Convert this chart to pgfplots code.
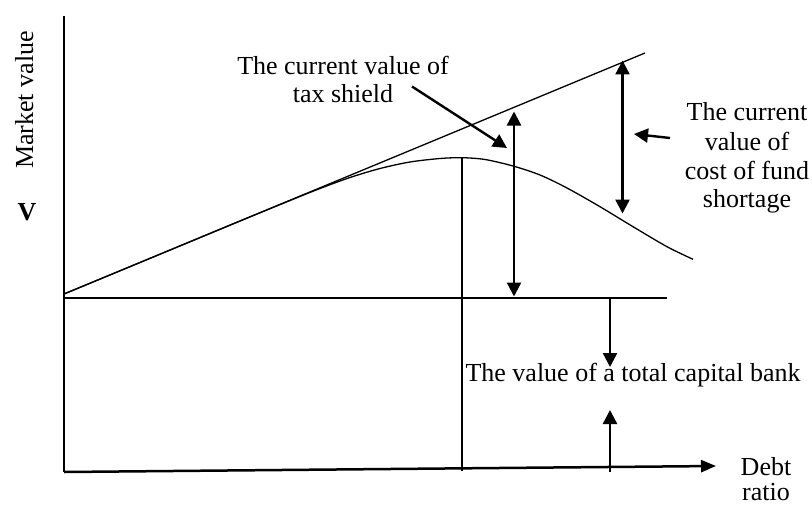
\documentclass[border=0pt]{standalone}
\usepackage{fontspec}
\setmainfont{Liberation Serif}
\usepackage{pgfplots}
\pgfplotsset{compat=1.18}
\usetikzlibrary{arrows.meta}
\begin{document}
\begin{tikzpicture}[font=\fontsize{26bp}{29bp}\selectfont]
\begin{axis}[
  scale only axis, width=812bp, height=505bp,
  xmin=0, xmax=812, ymin=0, ymax=505, y dir=reverse,
  hide axis, clip=false,
  every node/.style={inner sep=0pt, outer sep=0pt},
]
% axes
\addplot[black, line width=2bp] coordinates {(64,16) (64,472)};
\addplot[black, line width=2.5bp, -{Triangle[length=15bp,width=12bp]}] coordinates {(64,472) (716,466)};
% horizontal reference line
\addplot[black, line width=2bp] coordinates {(64,297.5) (667,297.5)};
% vertical line from the peak
\addplot[black, line width=1.5bp] coordinates {(462,158) (462,471)};
% straight line (value with tax shield)
\addplot[black, line width=1.3bp] coordinates {(64,294) (645,53)};
% curve (total value)
\addplot[black, line width=1.3bp, smooth, tension=0.5] coordinates {
(64,294) (120,270.8) (180,245.9) (240,221) (290,200.5) (320,188.5)
(350,177.5) (380,168.5) (410,162) (440,158.5) (462,157.7) (485,159.5)
(513,166) (540,175) (567,188) (600,206.7) (633,226.7) (667,246.7) (693,259.3)};
% double arrows
\addplot[black, line width=2.4bp, {Triangle[length=14bp,width=14bp]}-{Triangle[length=14bp,width=14bp]}] coordinates {(514,111.5) (514,296.5)};
\addplot[black, line width=2.4bp, {Triangle[length=14bp,width=14bp]}-{Triangle[length=14bp,width=14bp]}] coordinates {(622.5,60.5) (622.5,213.5)};
% pointer arrows
\addplot[black, line width=2.4bp, -{Triangle[length=14bp,width=14bp]}] coordinates {(412,86.5) (507,148)};
\addplot[black, line width=2.4bp, -{Triangle[length=14bp,width=14bp]}] coordinates {(670,138) (634,134)};
\addplot[black, line width=2.4bp, -{Triangle[length=14bp,width=14bp]}] coordinates {(610,297) (610,367)};
\addplot[black, line width=2.4bp, -{Triangle[length=14bp,width=14bp]}] coordinates {(610,472) (610,410)};
% texts
\node[rotate=90, anchor=base] at (axis cs:33,100) {Market value};
\node[anchor=base] at (axis cs:27,220) {\textbf{V}};
\node[anchor=base] at (axis cs:343,75) {The current value of};
\node[anchor=base] at (axis cs:343,103) {tax shield};
\node[anchor=base] at (axis cs:747,121) {The current};
\node[anchor=base] at (axis cs:747,150) {value of};
\node[anchor=base] at (axis cs:747,179) {cost of fund};
\node[anchor=base] at (axis cs:747,207) {shortage};
\node[anchor=base west] at (axis cs:462,381) {The value of a total capital bank};
\node[anchor=base] at (axis cs:766,475) {Debt};
\node[anchor=base] at (axis cs:766,500) {ratio};
\end{axis}
\pgfresetboundingbox
\path (current axis.south west) rectangle (current axis.north east);
\end{tikzpicture}
\end{document}
